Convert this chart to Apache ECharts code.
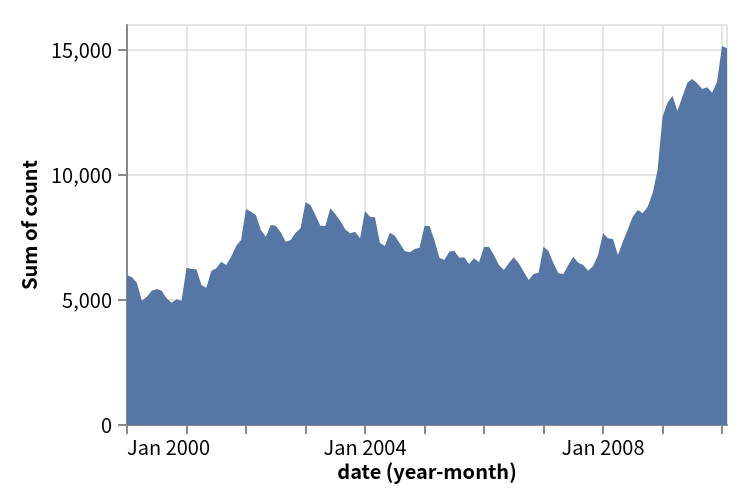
<!DOCTYPE html>
<html>
<head>
<meta charset="utf-8">
<script src="https://cdn.jsdelivr.net/npm/echarts@6/dist/echarts.min.js"></script>
<style>html,body{margin:0;padding:0;background:#fff;}#chart{width:756px;height:504px;}</style>
</head>
<body>
<div id="chart"></div>
<script>
// Months: 2000-01 .. 2010-02 (index 0 = Jan 2000)
const startYear = 2000;
const monthCount = 122;
const months = [];
for (let i = 0; i < monthCount; i++) {
  const y = startYear + Math.floor(i / 12), m = (i % 12) + 1;
  months.push(y + '-' + (m < 10 ? '0' + m : m));
}
// Sum of count per month
const sumOfCount = [
  6000, 5910, 5690, 4970, 5130, 5370, 5440, 5370, 5070, 4890, 5030, 4970,
  6290, 6240, 6230, 5600, 5490, 6160, 6270, 6530, 6400, 6730, 7160, 7400,
  8640, 8530, 8400, 7800, 7530, 8000, 7970, 7710, 7330, 7400, 7690, 7870,
  8910, 8800, 8400, 7970, 7960, 8670, 8440, 8170, 7830, 7670, 7730, 7470,
  8560, 8330, 8310, 7290, 7160, 7690, 7570, 7270, 6960, 6910, 7040, 7090,
  7960, 7960, 7400, 6690, 6600, 6930, 6970, 6690, 6710, 6440, 6670, 6510,
  7120, 7130, 6800, 6400, 6200, 6470, 6710, 6470, 6130, 5800, 6040, 6090,
  7130, 6960, 6470, 6070, 6040, 6400, 6730, 6490, 6400, 6170, 6360, 6800,
  7670, 7470, 7440, 6800, 7330, 7830, 8330, 8600, 8470, 8730, 9270, 10200,
  12330, 12890, 13160, 12560, 13130, 13690, 13840, 13670, 13440, 13510, 13290, 13730,
  15160, 15070
];
const xTickValues = [0, 12, 24, 36, 48, 60, 72, 84, 96, 108, 120];
const xLabelValues = [0, 48, 96];
const xTickLabels = ['Jan 2000', 'Jan 2004', 'Jan 2008'];
const yTickValues = [0, 5000, 10000, 15000];

const FONT = 'Noto Sans CJK KR';
const chart = echarts.init(document.getElementById('chart'), null, {renderer: 'canvas'});
chart.setOption({
  animation: false,
  textStyle: {fontFamily: FONT},
  grid: {left: 127, top: 25, right: 29, bottom: 79, show: true, borderColor: '#ddd', borderWidth: 1.5, backgroundColor: 'transparent'},
  xAxis: {
    type: 'value', min: 0, max: monthCount - 1, interval: 12,
    name: 'date (year-month)', nameLocation: 'middle', nameGap: 35,
    nameTextStyle: {fontFamily: FONT, fontSize: 20, fontWeight: 'bold', color: '#000'},
    axisLine: {show: true, lineStyle: {color: '#888', width: 2}},
    axisTick: {show: true, customValues: xTickValues, length: 9, lineStyle: {color: '#888', width: 2}},
    axisLabel: {
      customValues: xLabelValues, margin: 12, color: '#000', fontFamily: FONT, fontSize: 20,
      alignMinLabel: 'left',
      formatter: v => xTickLabels[xLabelValues.indexOf(v)] || ''
    },
    splitLine: {show: true, lineStyle: {color: '#ddd', width: 1.5}}
  },
  yAxis: {
    type: 'value', min: 0, max: 16000, interval: 5000,
    name: 'Sum of count', nameLocation: 'middle', nameGap: 88, nameRotate: 90,
    nameTextStyle: {fontFamily: FONT, fontSize: 20, fontWeight: 'bold', color: '#000'},
    axisLine: {show: true, lineStyle: {color: '#888', width: 2}},
    axisTick: {show: true, customValues: yTickValues, length: 9, lineStyle: {color: '#888', width: 2}},
    axisLabel: {
      customValues: yTickValues, margin: 15, color: '#000', fontFamily: FONT, fontSize: 20,
      formatter: v => v.toLocaleString('en-US')
    },
    splitLine: {show: true, lineStyle: {color: '#ddd', width: 1.5}}
  },
  series: [{
    type: 'line',
    data: sumOfCount.map((v, i) => [i, v]),
    symbol: 'none', showSymbol: false,
    lineStyle: {width: 0, opacity: 0},
    areaStyle: {color: '#5677a5', opacity: 1},
    z: 2
  }]
});
</script>
</body>
</html>
